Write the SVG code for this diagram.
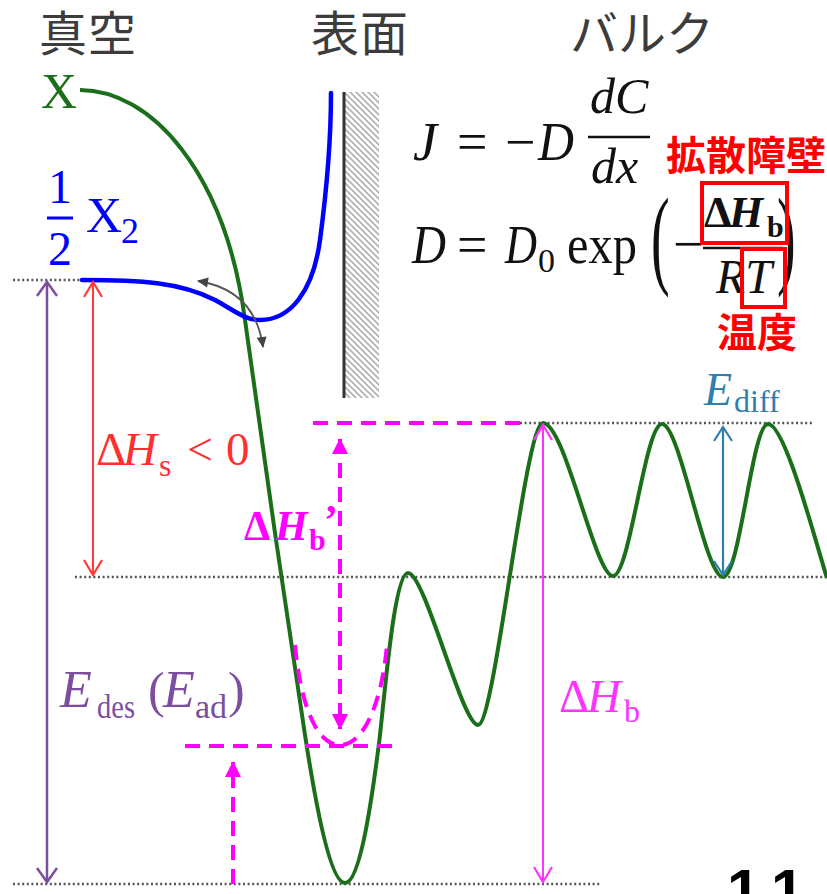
<svg xmlns="http://www.w3.org/2000/svg" width="827" height="894" viewBox="0 0 827 894">
<style>
.jp{font-family:"Noto Sans CJK JP","Noto Sans CJK SC",sans-serif;font-size:48px;fill:#3c3c3c}
.red{font-family:"Noto Sans CJK JP","Noto Sans CJK SC",sans-serif;font-size:40px;font-weight:bold;fill:#ff0000}
.m{font-family:"Liberation Serif",serif}
.i{font-style:italic}
.dot{stroke:#555;stroke-width:2.5;stroke-dasharray:2 2.6;fill:none}
.mdash{stroke:#ff00ff;stroke-width:4;stroke-dasharray:15 9;fill:none}
</style>
<defs>
<pattern id="hatch" patternUnits="userSpaceOnUse" width="6" height="6">
<path d="M-1,-1 L7,7 M-4,2 L4,10 M2,-4 L10,4" stroke="#b0b0b0" stroke-width="1.6"/>
</pattern>
<marker id="aPur" markerUnits="userSpaceOnUse" viewBox="-16 -12 20 24" markerWidth="20" markerHeight="24" refX="0" refY="0" orient="auto-start-reverse"><path d="M-14,-10 L0,0 L-14,10" fill="none" stroke="#7b4ea0" stroke-width="2.5"/></marker>
<marker id="aRed" markerUnits="userSpaceOnUse" viewBox="-16 -12 20 24" markerWidth="20" markerHeight="24" refX="0" refY="0" orient="auto-start-reverse"><path d="M-15,-9 L0,0 L-15,9" fill="none" stroke="#ff3b3b" stroke-width="2.2"/></marker>
<marker id="aMag" markerUnits="userSpaceOnUse" viewBox="-16 -12 20 24" markerWidth="20" markerHeight="24" refX="0" refY="0" orient="auto-start-reverse"><path d="M-15,-9 L0,0 L-15,9" fill="none" stroke="#ff33ff" stroke-width="2.2"/></marker>
<marker id="aTeal" markerUnits="userSpaceOnUse" viewBox="-16 -12 20 24" markerWidth="20" markerHeight="24" refX="0" refY="0" orient="auto-start-reverse"><path d="M-14,-9 L0,0 L-14,9" fill="none" stroke="#2f7fae" stroke-width="2.2"/></marker>
<marker id="aMagF" markerUnits="userSpaceOnUse" viewBox="-16 -10 18 20" markerWidth="18" markerHeight="20" refX="0" refY="0" orient="auto-start-reverse"><path d="M-15,-8 L1,0 L-15,8 Z" fill="#ff00ff"/></marker>
<marker id="aBlk" markerUnits="userSpaceOnUse" viewBox="-12 -7 14 14" markerWidth="14" markerHeight="14" refX="0" refY="0" orient="auto-start-reverse"><path d="M-10,-5 L1,0 L-10,5 Z" fill="#444"/></marker>
</defs>
<rect width="827" height="894" fill="#fff"/>

<g id="headers">
<text class="jp" x="39" y="51" letter-spacing="1">真空</text>
<text class="jp" x="311" y="51" letter-spacing="1">表面</text>
<text class="jp" x="570" y="51">バルク</text>
</g>

<g id="wall">
<rect x="345" y="92" width="34" height="306" fill="url(#hatch)"/>
<line x1="344" y1="92" x2="344" y2="398" stroke="#333" stroke-width="3"/>
</g>

<g id="levels">
<line class="dot" x1="13" y1="280" x2="82" y2="280"/>
<line class="dot" x1="75" y1="577" x2="827" y2="577"/>
<line class="dot" x1="520" y1="423" x2="812" y2="423"/>
<line class="dot" x1="13" y1="884" x2="600" y2="884"/>
</g>

<g id="curves">
<path id="X-curve" d="M80,90 C150,90 225,170 245,320 C255,395 290,640 305,735 C315,800 330,883 345,883 C360,883 372,800 380,735 C386,680 395,573 408,573 C425,573 462,725 478,725 C495,725 525,423 543,423 C565,423 595,576 613,576 C630,576 645,424 662,424 C680,424 705,577 723,577 C740,577 752,424 768,424 C785,424 815,540 827,578" fill="none" stroke="#1b6f1b" stroke-width="4"/>
<path id="X2-curve" d="M82,280 C140,280 180,282 215,300 C235,311 245,320 260,320 C290,320 313,292 320,240 C326,195 331,140 331,93" fill="none" stroke="#0000ff" stroke-width="4.5" stroke-linecap="round"/>
</g>

<g id="connectors">
<path d="M198,281 Q255,290 263,347" fill="none" stroke="#555" stroke-width="1.8" marker-start="url(#aBlk)" marker-end="url(#aBlk)"/>
<line x1="47" y1="282" x2="47" y2="882" stroke="#7b4ea0" stroke-width="2.5" marker-start="url(#aPur)" marker-end="url(#aPur)"/>
<line x1="93" y1="282" x2="93" y2="575" stroke="#ff3b3b" stroke-width="2" marker-start="url(#aRed)" marker-end="url(#aRed)"/>
<line x1="543" y1="425" x2="543" y2="882" stroke="#ff33ff" stroke-width="2" marker-start="url(#aMag)" marker-end="url(#aMag)"/>
<line x1="723" y1="427" x2="723" y2="575" stroke="#2f7fae" stroke-width="2.2" marker-start="url(#aTeal)" marker-end="url(#aTeal)"/>
<line class="mdash" x1="313" y1="423" x2="520" y2="423"/>
<line class="mdash" x1="185" y1="746" x2="397" y2="746"/>
<path class="mdash" d="M295,645 C300,700 315,745 340,745 C365,745 382,700 387,645"/>
<line class="mdash" x1="340" y1="439" x2="340" y2="729" marker-start="url(#aMagF)" marker-end="url(#aMagF)"/>
<line class="mdash" x1="233" y1="884" x2="233" y2="762" marker-end="url(#aMagF)"/>
</g>

<g id="label-X">
<text class="m" x="41" y="108" font-size="50" fill="#1b6f1b">X</text>
</g>
<g id="label-X2" fill="#0000ff">
<text class="m" x="60" y="203" font-size="48" text-anchor="middle">1</text>
<line x1="47" y1="218" x2="73" y2="218" stroke="#0000ff" stroke-width="3"/>
<text class="m" x="60" y="265" font-size="48" text-anchor="middle">2</text>
<text class="m" x="86" y="232" font-size="50">X</text>
<text class="m" x="121" y="243" font-size="36">2</text>
</g>

<g id="label-dHs" fill="#ff3030">
<text class="m" x="96" y="465" font-size="47">Δ</text>
<text class="m i" x="123" y="465" font-size="47">H</text>
<text class="m" x="159" y="476" font-size="32">s</text>
<text class="m" x="187" y="465" font-size="46">&lt;</text>
<text class="m" x="226" y="465" font-size="47">0</text>
</g>

<g id="label-Edes" fill="#7b4ea0">
<text class="m i" x="60" y="707" font-size="52">E</text>
<text class="m" x="97" y="718" font-size="34" textLength="38" lengthAdjust="spacingAndGlyphs">des</text>
<text class="m" x="148" y="707" font-size="50">(</text>
<text class="m i" x="163" y="707" font-size="52">E</text>
<text class="m" x="195" y="718" font-size="34">ad</text>
<text class="m" x="228" y="707" font-size="50">)</text>
</g>

<g id="label-dHb-prime" fill="#ff00ff" font-weight="bold">
<text class="m" x="244" y="540" font-size="42">Δ</text>
<text class="m i" x="275" y="540" font-size="42">H</text>
<text class="m" x="309" y="550" font-size="30">b</text>
<text class="m" x="324" y="534" font-size="42">’</text>
</g>

<g id="label-dHb" fill="#ff33ff">
<text class="m" x="559" y="712" font-size="47">Δ</text>
<text class="m i" x="587" y="712" font-size="47">H</text>
<text class="m" x="624" y="722" font-size="32">b</text>
</g>

<g id="label-Ediff" fill="#2f7fae">
<text class="m i" x="704" y="405" font-size="46">E</text>
<text class="m" x="734" y="412" font-size="32">diff</text>
</g>

<g id="formula1" fill="#111">
<text class="m i" x="413" y="160" font-size="54">J</text>
<text class="m" x="457" y="160" font-size="54">=</text>
<text class="m" x="505" y="160" font-size="54">−</text>
<text class="m i" x="538" y="160" font-size="54" textLength="36" lengthAdjust="spacingAndGlyphs">D</text>
<text class="m i" x="590" y="113" font-size="50">dC</text>
<line x1="588" y1="137" x2="650" y2="137" stroke="#111" stroke-width="2.5"/>
<text class="m i" x="591" y="183" font-size="50">dx</text>
</g>

<g id="formula2" fill="#111">
<text class="m i" x="412" y="263" font-size="54" textLength="34" lengthAdjust="spacingAndGlyphs">D</text>
<text class="m" x="457" y="263" font-size="54">=</text>
<text class="m i" x="505" y="263" font-size="54" textLength="32" lengthAdjust="spacingAndGlyphs">D</text>
<text class="m" x="538" y="272" font-size="34">0</text>
<text class="m" x="567" y="263" font-size="54" textLength="70" lengthAdjust="spacingAndGlyphs">exp</text>
<text class="m" font-size="56" transform="translate(651,274) scale(1,1.95)">(</text>
<text class="m" x="673" y="262" font-size="54">−</text>
<line x1="703" y1="248" x2="783" y2="248" stroke="#111" stroke-width="2.5"/>
<text class="m" x="704" y="227" font-size="44" font-weight="bold">Δ</text>
<text class="m i" x="729" y="227" font-size="44" font-weight="bold">H</text>
<text class="m" x="767" y="237" font-size="30" font-weight="bold">b</text>
<text class="m i" x="716" y="293" font-size="48">RT</text>
<text class="m" font-size="56" transform="translate(777,274) scale(1,1.95)">)</text>
</g>

<g id="highlights">
<rect x="702" y="183" width="85" height="60" fill="none" stroke="#ff0000" stroke-width="4"/>
<rect x="742" y="249" width="43" height="58" fill="none" stroke="#ff0000" stroke-width="4"/>
<text class="red" x="666" y="170">拡散障壁</text>
<text class="red" x="717" y="347">温度</text>
</g>

<g id="page-number">
<text x="727" y="911" font-family="Liberation Sans, sans-serif" font-weight="bold" font-size="60" fill="#000">1</text>
<text x="771" y="911" font-family="Liberation Sans, sans-serif" font-weight="bold" font-size="60" fill="#000">1</text>
</g>
</svg>
